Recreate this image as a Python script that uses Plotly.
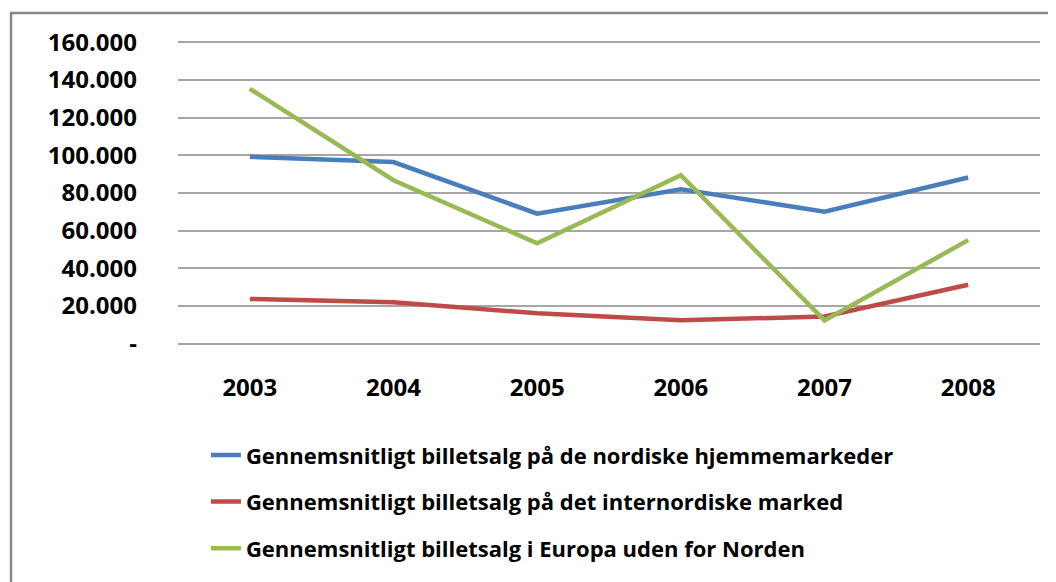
import plotly.graph_objects as go

years = ["2003", "2004", "2005", "2006", "2007", "2008"]
hjemme = [99200, 96400, 69000, 82000, 70100, 88200]
internordisk = [23800, 22000, 16200, 12400, 14500, 31300]
europa = [135300, 86800, 53300, 89500, 12400, 55000]

names = [
    "Gennemsnitligt billetsalg på de nordiske hjemmemarkeder",
    "Gennemsnitligt billetsalg på det internordiske marked",
    "Gennemsnitligt billetsalg i Europa uden for Norden",
]
colors = ["#4A7EBB", "#BE4B48", "#98B954"]
series = [hjemme, internordisk, europa]

ytickvals = [0, 20000, 40000, 60000, 80000, 100000, 120000, 140000, 160000]
yticktext = ["-", "20.000", "40.000", "60.000", "80.000", "100.000", "120.000", "140.000", "160.000"]

font_family = "Open Sans, Lato, sans-serif"

fig = go.Figure()
for i, (n, c, s) in enumerate(zip(names, colors, series)):
    fig.add_trace(go.Scatter(
        x=years, y=s, name=n, mode="lines",
        line=dict(color=c, width=4.5),
        legendgroup=f"g{i}",
    ))

fig.update_layout(
    width=1048, height=574,
    margin=dict(l=170, r=16, t=32, b=236, autoexpand=False),
    paper_bgcolor="white", plot_bgcolor="white",
    font=dict(family=font_family, size=22, color="black"),
    showlegend=True,
    legend=dict(
        x=0.0324, y=-0.288, xanchor="left", yanchor="top",
        orientation="v", tracegroupgap=15,
        font=dict(family=font_family, size=22, color="black", weight="bold"),
        bgcolor="rgba(0,0,0,0)",
    ),
    xaxis=dict(
        type="category", range=[-0.5, 5.5], automargin=False,
        showgrid=False, showline=False, zeroline=False,
        ticks="", ticklabelstandoff=25,
        tickfont=dict(family=font_family, size=24, color="black", weight="bold"),
    ),
    yaxis=dict(
        range=[-1200, 161200], tickvals=ytickvals, ticktext=yticktext, automargin=False,
        showgrid=True, gridcolor="#A6A6A6", gridwidth=1.5,
        zeroline=False, showline=False, ticks="", ticklabelstandoff=40,
        tickfont=dict(family=font_family, size=24, color="black", weight="bold"),
    ),
    shapes=[dict(
        type="rect", xref="paper", yref="paper",
        x0=-0.1937, x1=1.2, y0=-1.0, y1=1.088,
        line=dict(color="#888888", width=2.5), fillcolor="rgba(0,0,0,0)",
        layer="below",
    )],
)

fig.write_html("out.html")
